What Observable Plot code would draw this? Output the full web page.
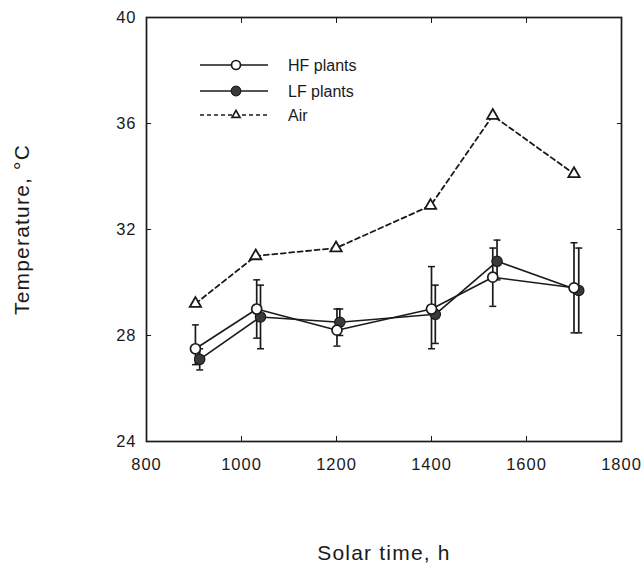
<!DOCTYPE html>
<html>
<head>
<meta charset="utf-8">
<script src="https://cdn.jsdelivr.net/npm/d3@7"></script>
<script src="https://cdn.jsdelivr.net/npm/@observablehq/plot@0.6"></script>
<style>
  html, body { margin: 0; padding: 0; background: white; }
  #wrap { position: relative; width: 643px; height: 563px; }
  #legend { position: absolute; left: 0; top: 0; pointer-events: none; }
  #chart [aria-label="x-axis tick label"] text,
  #chart [aria-label="y-axis tick label"] text { letter-spacing: 1px; }
  #chart [aria-label="x-axis label"] text,
  #chart [aria-label="y-axis label"] text { font-size: 21px; letter-spacing: 1.2px; }
</style>
</head>
<body>
<div id="wrap"><div id="chart"></div><svg id="legend" width="643" height="563"></svg></div>
<script>
// ---- data ----
const xTicks = [800, 1000, 1200, 1400, 1600, 1800];
const yTicks = [24, 28, 32, 36, 40];

const hfTime = [903, 1032, 1201, 1400, 1529, 1700];
const hfMean = [27.5, 29.0, 28.2, 29.0, 30.2, 29.8];
const hfLow  = [26.9, 27.9, 27.6, 27.5, 29.1, 28.1];
const hfHigh = [28.4, 30.1, 29.0, 30.6, 31.3, 31.5];

const lfTime = [912, 1040, 1207, 1408, 1538, 1710];
const lfMean = [27.1, 28.7, 28.5, 28.8, 30.8, 29.7];
const lfLow  = [26.7, 27.5, 28.0, 27.7, 30.1, 28.1];
const lfHigh = [27.5, 29.9, 29.0, 29.9, 31.6, 31.3];

const airTime = [903, 1030, 1199, 1398, 1529, 1700];
const airMean = [29.2, 31.0, 31.3, 32.9, 36.3, 34.1];

const legendLabels = ["HF plants", "LF plants", "Air"];

// ---- tables ----
const hf = hfTime.map((x, i) => ({x, y: hfMean[i], lo: hfLow[i], hi: hfHigh[i]}));
const lf = lfTime.map((x, i) => ({x, y: lfMean[i], lo: lfLow[i], hi: lfHigh[i]}));
const air = airTime.map((x, i) => ({x, y: airMean[i]}));
const caps = [...hf, ...lf].flatMap(d => [{x: d.x, y: d.lo}, {x: d.x, y: d.hi}]);

const capSymbol = {
  draw(context, size) {
    const w = Math.sqrt(size / Math.PI);
    context.moveTo(-w, 0);
    context.lineTo(w, 0);
  }
};

const ink = "#1a1a1a";

const chart = Plot.plot({
  width: 643,
  height: 563,
  marginLeft: 146,
  marginRight: 22,
  marginTop: 17,
  marginBottom: 122,
  x: {domain: [800, 1800]},
  y: {domain: [24, 40]},
  style: {fontFamily: "'Liberation Sans', Arial, sans-serif", fontSize: "16.5px", background: "white", color: ink},
  marks: [
    Plot.axisX(xTicks, {anchor: "bottom", tickSize: -5, tickPadding: 22, tickFormat: d3.format("d"),
      label: "Solar time, h", labelAnchor: "center", labelArrow: "none", labelOffset: 118}),
    Plot.axisX(xTicks, {anchor: "top", tickSize: -5, tickFormat: () => "", label: null}),
    Plot.axisY(yTicks, {anchor: "left", tickSize: -5, tickPadding: 15,
      label: "Temperature, °C", labelAnchor: "center", labelArrow: "none", labelOffset: 132}),
    Plot.axisY(yTicks, {anchor: "right", tickSize: -5, tickFormat: () => "", label: null}),
    Plot.frame({stroke: ink, strokeWidth: 1.7}),
    Plot.ruleX(hf, {x: "x", y1: "lo", y2: "hi", stroke: ink, strokeWidth: 1.7}),
    Plot.ruleX(lf, {x: "x", y1: "lo", y2: "hi", stroke: ink, strokeWidth: 1.7}),
    Plot.dot(caps, {x: "x", y: "y", symbol: capSymbol, r: 3.5, stroke: ink, strokeWidth: 1.5, fill: "none"}),
    Plot.line(air, {x: "x", y: "y", stroke: ink, strokeWidth: 1.8, strokeDasharray: "5,3.5"}),
    Plot.line(hf, {x: "x", y: "y", stroke: ink, strokeWidth: 1.6}),
    Plot.line(lf, {x: "x", y: "y", stroke: ink, strokeWidth: 1.6}),
    Plot.dot(air, {x: "x", y: "y", symbol: "triangle", r: 4.2, stroke: ink, strokeWidth: 1.8, fill: "white"}),
    Plot.dot(lf, {x: "x", y: "y", r: 5.2, stroke: ink, strokeWidth: 1.2, fill: "#3a3a3a"}),
    Plot.dot(hf, {x: "x", y: "y", r: 5, stroke: ink, strokeWidth: 1.7, fill: "white"})
  ]
});
document.getElementById("chart").appendChild(chart);

// ---- legend overlay ----
const lg = d3.select("#legend");
const rows = [65, 91, 115];
const styles = [
  {dash: null, kind: "open"},
  {dash: null, kind: "filled"},
  {dash: "4,3", kind: "tri"}
];
legendLabels.forEach((label, i) => {
  const y = rows[i], s = styles[i];
  lg.append("line").attr("x1", 200).attr("x2", 268).attr("y1", y).attr("y2", y)
    .attr("stroke", ink).attr("stroke-width", 1.6).attr("stroke-dasharray", s.dash);
  if (s.kind === "open") {
    lg.append("circle").attr("cx", 236).attr("cy", y).attr("r", 4.5).attr("fill", "white").attr("stroke", ink).attr("stroke-width", 1.7);
  } else if (s.kind === "filled") {
    lg.append("circle").attr("cx", 236).attr("cy", y).attr("r", 4.8).attr("fill", "#3a3a3a").attr("stroke", ink).attr("stroke-width", 1.2);
  } else {
    lg.append("path").attr("transform", `translate(236,${y})`)
      .attr("d", d3.symbol(d3.symbolTriangle2, 45)()).attr("fill", "white").attr("stroke", ink).attr("stroke-width", 1.7);
  }
  lg.append("text").attr("x", 288).attr("y", y).attr("dy", "0.35em")
    .attr("font-family", "'Liberation Sans', Arial, sans-serif").attr("font-size", 16)
    .attr("fill", ink).text(label);
});
</script>
</body>
</html>
